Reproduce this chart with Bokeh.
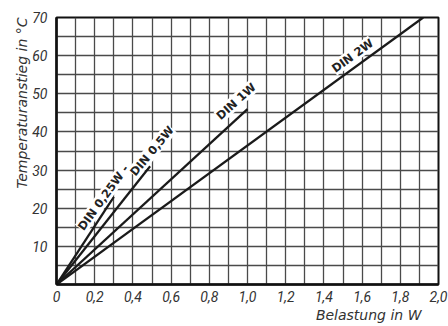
import math
from bokeh.plotting import figure
from bokeh.models import Label, FixedTicker, Range1d, ColumnDataSource, Title
from bokeh.embed import file_html
from bokeh.resources import INLINE

# ---- data ----
x_tick_values = [0, 0.2, 0.4, 0.6, 0.8, 1.0, 1.2, 1.4, 1.6, 1.8, 2.0]
x_tick_labels = ["0", "0,2", "0,4", "0,6", "0,8", "1,0", "1,2", "1,4", "1,6", "1,8", "2,0"]
y_tick_values = [10, 20, 30, 40, 50, 60, 70]
x_grid_values = [i / 10 for i in range(0, 21)]
y_grid_values = [i * 5 for i in range(0, 15)]

din_types = ["DIN 0,25W", "DIN 0,5W", "DIN 1W", "DIN 2W"]
load_start_w = [0, 0, 0, 0]
temp_start_c = [0, 0, 0, 0]
load_end_w = [0.30, 0.49, 1.0, 1.92]
temp_end_c = [23, 31, 46, 70]

x_title = "Belastung in W"
y_title = "Temperaturanstieg in °C"

# ---- figure ----
p = figure(frame_width=382, frame_height=267,
           x_range=Range1d(0, 2.0), y_range=Range1d(0, 70),
           output_backend="svg", toolbar_location=None,
           min_border_left=56, min_border_right=10,
           min_border_top=17, min_border_bottom=42)
p.background_fill_color = "white"
p.border_fill_color = "white"
p.outline_line_color = "#111111"
p.outline_line_width = 2

# grids
p.xgrid.ticker = FixedTicker(ticks=x_grid_values)
p.ygrid.ticker = FixedTicker(ticks=y_grid_values)
for g in (p.xgrid, p.ygrid):
    g.grid_line_color = "#4a4a4a"
    g.grid_line_width = 1.3
    g.grid_line_alpha = 1.0

# axes
p.xaxis.ticker = FixedTicker(ticks=x_tick_values)
p.xaxis.major_label_overrides = {v: l for v, l in zip(x_tick_values, x_tick_labels)}
p.yaxis.ticker = FixedTicker(ticks=y_tick_values)
for ax in (p.xaxis, p.yaxis):
    ax.axis_line_color = "#111111"
    ax.axis_line_width = 2.5
    ax.major_tick_line_color = None
    ax.minor_tick_line_color = None
    ax.major_tick_out = 0
    ax.major_tick_in = 0
    ax.major_label_text_font = "Roboto"
    ax.major_label_text_font_style = "italic"
    ax.major_label_text_font_size = "14px"
    ax.major_label_text_color = "#333333"
p.xaxis.major_label_standoff = 6
p.yaxis.major_label_standoff = 9

# curves
src = ColumnDataSource(dict(x0=load_start_w, y0=temp_start_c, x1=load_end_w, y1=temp_end_c))
p.segment(x0="x0", y0="y0", x1="x1", y1="y1", source=src,
          line_color="#1a1a1a", line_width=2.3)

# curve labels
label_pos = [(0.245, 22.8, 54), (0.50, 35.0, 50), (0.94, 48.0, 42), (1.55, 60.0, 36)]
label_txt = [din_types[0] + " -", din_types[1], din_types[2], din_types[3]]
for (lx, ly, ang), txt in zip(label_pos, label_txt):
    p.add_layout(Label(x=lx, y=ly, text=txt, angle=math.radians(ang),
                       text_align="center", text_baseline="middle",
                       text_font="DejaVu Sans", text_font_style="bold",
                       text_font_size="11.5px", text_color="#222222",
                       background_fill_color="white", background_fill_alpha=1.0))

# axis titles
p.add_layout(Title(text=x_title, align="right", offset=17, standoff=0,
                   text_font="DejaVu Sans", text_font_style="italic",
                   text_font_size="14px", text_color="#333333"), "below")
p.add_layout(Title(text=y_title, align="right", offset=0, standoff=0,
                   text_font="DejaVu Sans", text_font_style="italic",
                   text_font_size="14px", text_color="#333333"), "left")

open("out.html", "w").write(file_html(p, INLINE))
